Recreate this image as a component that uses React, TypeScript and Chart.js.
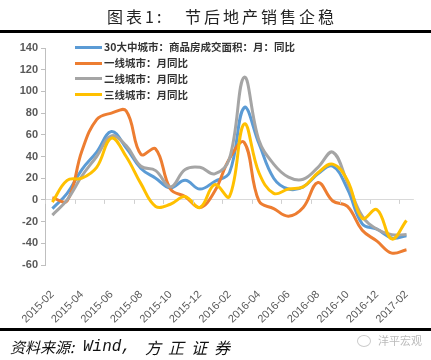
import React, { useEffect, useRef } from 'react';
import { Chart, registerables } from 'chart.js';

Chart.register(...registerables);

const months = [
  '2015-02', '2015-03', '2015-04', '2015-05', '2015-06', '2015-07', '2015-08', '2015-09', '2015-10',
  '2015-11', '2015-12', '2016-01', '2016-02', '2016-03', '2016-04', '2016-05', '2016-06', '2016-07',
  '2016-08', '2016-09', '2016-10', '2016-11', '2016-12', '2017-01', '2017-02',
];

const seriesNames = [
  '30大中城市：商品房成交面积：月：同比',
  '一线城市：月同比',
  '二线城市：月同比',
  '三线城市：月同比',
];

const city30 = [-8, 6, 28, 44, 63, 48, 29, 20, 11, 18, 10, 17, 25, 85, 52, 20, 10, 12, 24, 31, 10, -22, -27, -35, -33];
const tier1 = [2, -1, 45, 74, 80, 82, 42, 47, 10, 3, -7, 8, 38, 53, -1, -8, -15, -7, 16, -1, -6, -28, -38, -49, -46];
const tier2 = [-14, 0, 22, 40, 59, 50, 31, 27, 12, 28, 30, 24, 38, 113, 55, 33, 21, 19, 30, 44, 16, -15, -27, -32, -32];
const tier3 = [-2, 18, 20, 30, 57, 40, 15, -6, -4, 3, -7, 14, 3, 70, 25, 6, 10, 12, 25, 33, 18, -17, -9, -36, -19];

const colors = ['#5B9BD5', '#ED7D31', '#A5A5A5', '#FFC000'];
const yTicks = { min: -60, max: 140, step: 20 };

const CJK = '"Noto Sans CJK SC", "Noto Sans", sans-serif';
const LAT = '"Liberation Sans", Arial, sans-serif';

const zeroTicks = {
  id: 'zeroTicks',
  afterDraw(chart: any) {
    const { ctx, chartArea } = chart;
    const y0 = chart.scales.y.getPixelForValue(0);
    const n = months.length;
    const w = (chartArea.right - chartArea.left) / n;
    ctx.save();
    ctx.strokeStyle = '#d0d0d0';
    ctx.lineWidth = 1;
    for (let k = 0; k <= n; k += 2) {
      const x = Math.round(chartArea.left + k * w) + 0.5;
      ctx.beginPath();
      ctx.moveTo(x, y0);
      ctx.lineTo(x, y0 + 4);
      ctx.stroke();
    }
    ctx.restore();
  },
};

export default function App() {
  const ref = useRef<HTMLCanvasElement>(null);

  useEffect(() => {
    const data = [city30, tier1, tier2, tier3];
    const chart = new Chart(ref.current as HTMLCanvasElement, {
      type: 'line',
      data: {
        labels: months,
        datasets: data.map((d, i) => ({
          label: seriesNames[i],
          data: d,
          borderColor: colors[i],
          backgroundColor: colors[i],
          borderWidth: 3,
          pointRadius: 0,
          tension: 0.4,
          fill: false,
          order: 4 - i,
        })),
      },
      options: {
        responsive: false,
        animation: false,
        devicePixelRatio: 1,
        layout: { padding: { top: 48, right: 9, left: 0, bottom: 0 } },
        plugins: { legend: { display: false }, title: { display: false }, tooltip: { enabled: false } },
        scales: {
          x: {
            offset: true,
            grid: { display: false },
            border: { display: false },
            ticks: {
              autoSkip: false,
              maxRotation: 45,
              minRotation: 45,
              padding: 15,
              color: '#595959',
              font: { family: LAT, size: 11 },
              callback: (_v: any, i: number) => (i % 2 === 0 ? months[i] : ''),
            },
            afterFit: (s: any) => {
              s.height = 95;
            },
          },
          y: {
            min: yTicks.min,
            max: yTicks.max,
            ticks: {
              stepSize: yTicks.step,
              padding: 3,
              color: '#595959',
              font: { family: LAT, size: 11, weight: 'bold' },
            },
            grid: {
              color: (c: any) => (c.tick && c.tick.value === 0 ? '#d9d9d9' : 'rgba(0,0,0,0)'),
              tickColor: '#bfbfbf',
              tickLength: 4,
              lineWidth: 1,
            },
            border: { display: true, color: '#bfbfbf' },
            afterFit: (s: any) => {
              s.width = 45;
            },
          },
        },
      },
      plugins: [zeroTicks],
    } as any);
    return () => chart.destroy();
  }, []);

  const legendTop = [47, 63, 78.5, 94.5];

  return (
    <div style={{ position: 'fixed', left: 0, top: 0, width: 431, height: 360, background: '#fff', overflow: 'hidden' }}>
      <canvas ref={ref} width={431} height={360} style={{ position: 'absolute', left: 0, top: 0, width: 431, height: 360 }} />
      <div style={{ position: 'absolute', left: 107, top: 7, fontFamily: CJK, fontSize: 16, lineHeight: '18px', letterSpacing: 3, color: '#222', whiteSpace: 'nowrap' }}>图表1:</div>
      <div style={{ position: 'absolute', left: 185, top: 7, fontFamily: CJK, fontSize: 16, lineHeight: '18px', letterSpacing: 3, color: '#222', whiteSpace: 'nowrap' }}>节后地产销售企稳</div>
      <div style={{ position: 'absolute', left: 0, top: 30, width: 431, height: 3, background: '#000' }} />
      <div style={{ position: 'absolute', left: 0, top: 328, width: 431, height: 3, background: '#000' }} />
      {seriesNames.map((n, i) => (
        <div key={n} style={{ position: 'absolute', left: 75, top: legendTop[i] - 8, height: 16, display: 'flex', alignItems: 'center', whiteSpace: 'nowrap' }}>
          <span style={{ display: 'inline-block', width: 27, height: 3, background: colors[i], marginRight: 2 }} />
          <span style={{ fontFamily: CJK, fontSize: 10.5, fontWeight: 'bold', color: '#333', lineHeight: '16px' }}>{n}</span>
        </div>
      ))}
      <div style={{ position: 'absolute', left: 10, top: 337, fontFamily: CJK, fontSize: 15, lineHeight: '20px', fontStyle: 'italic', color: '#111', whiteSpace: 'nowrap' }}>资料来源:</div>
      <div style={{ position: 'absolute', left: 83, top: 337, fontFamily: '"Liberation Mono", monospace', fontSize: 16, lineHeight: '20px', fontStyle: 'italic', color: '#111', whiteSpace: 'nowrap' }}>Wind,</div>
      <div style={{ position: 'absolute', left: 145, top: 337, fontFamily: CJK, fontSize: 16, lineHeight: '20px', letterSpacing: 7, fontStyle: 'italic', color: '#111', whiteSpace: 'nowrap' }}>方正证券</div>
      <div style={{ position: 'absolute', left: 357, top: 335, width: 12, height: 10, borderRadius: '50%', border: '1px solid #ccc' }} />
      <div style={{ position: 'absolute', left: 378, top: 333, fontFamily: CJK, fontSize: 11, lineHeight: '14px', color: '#bbb', whiteSpace: 'nowrap' }}>洋平宏观</div>
    </div>
  );
}
